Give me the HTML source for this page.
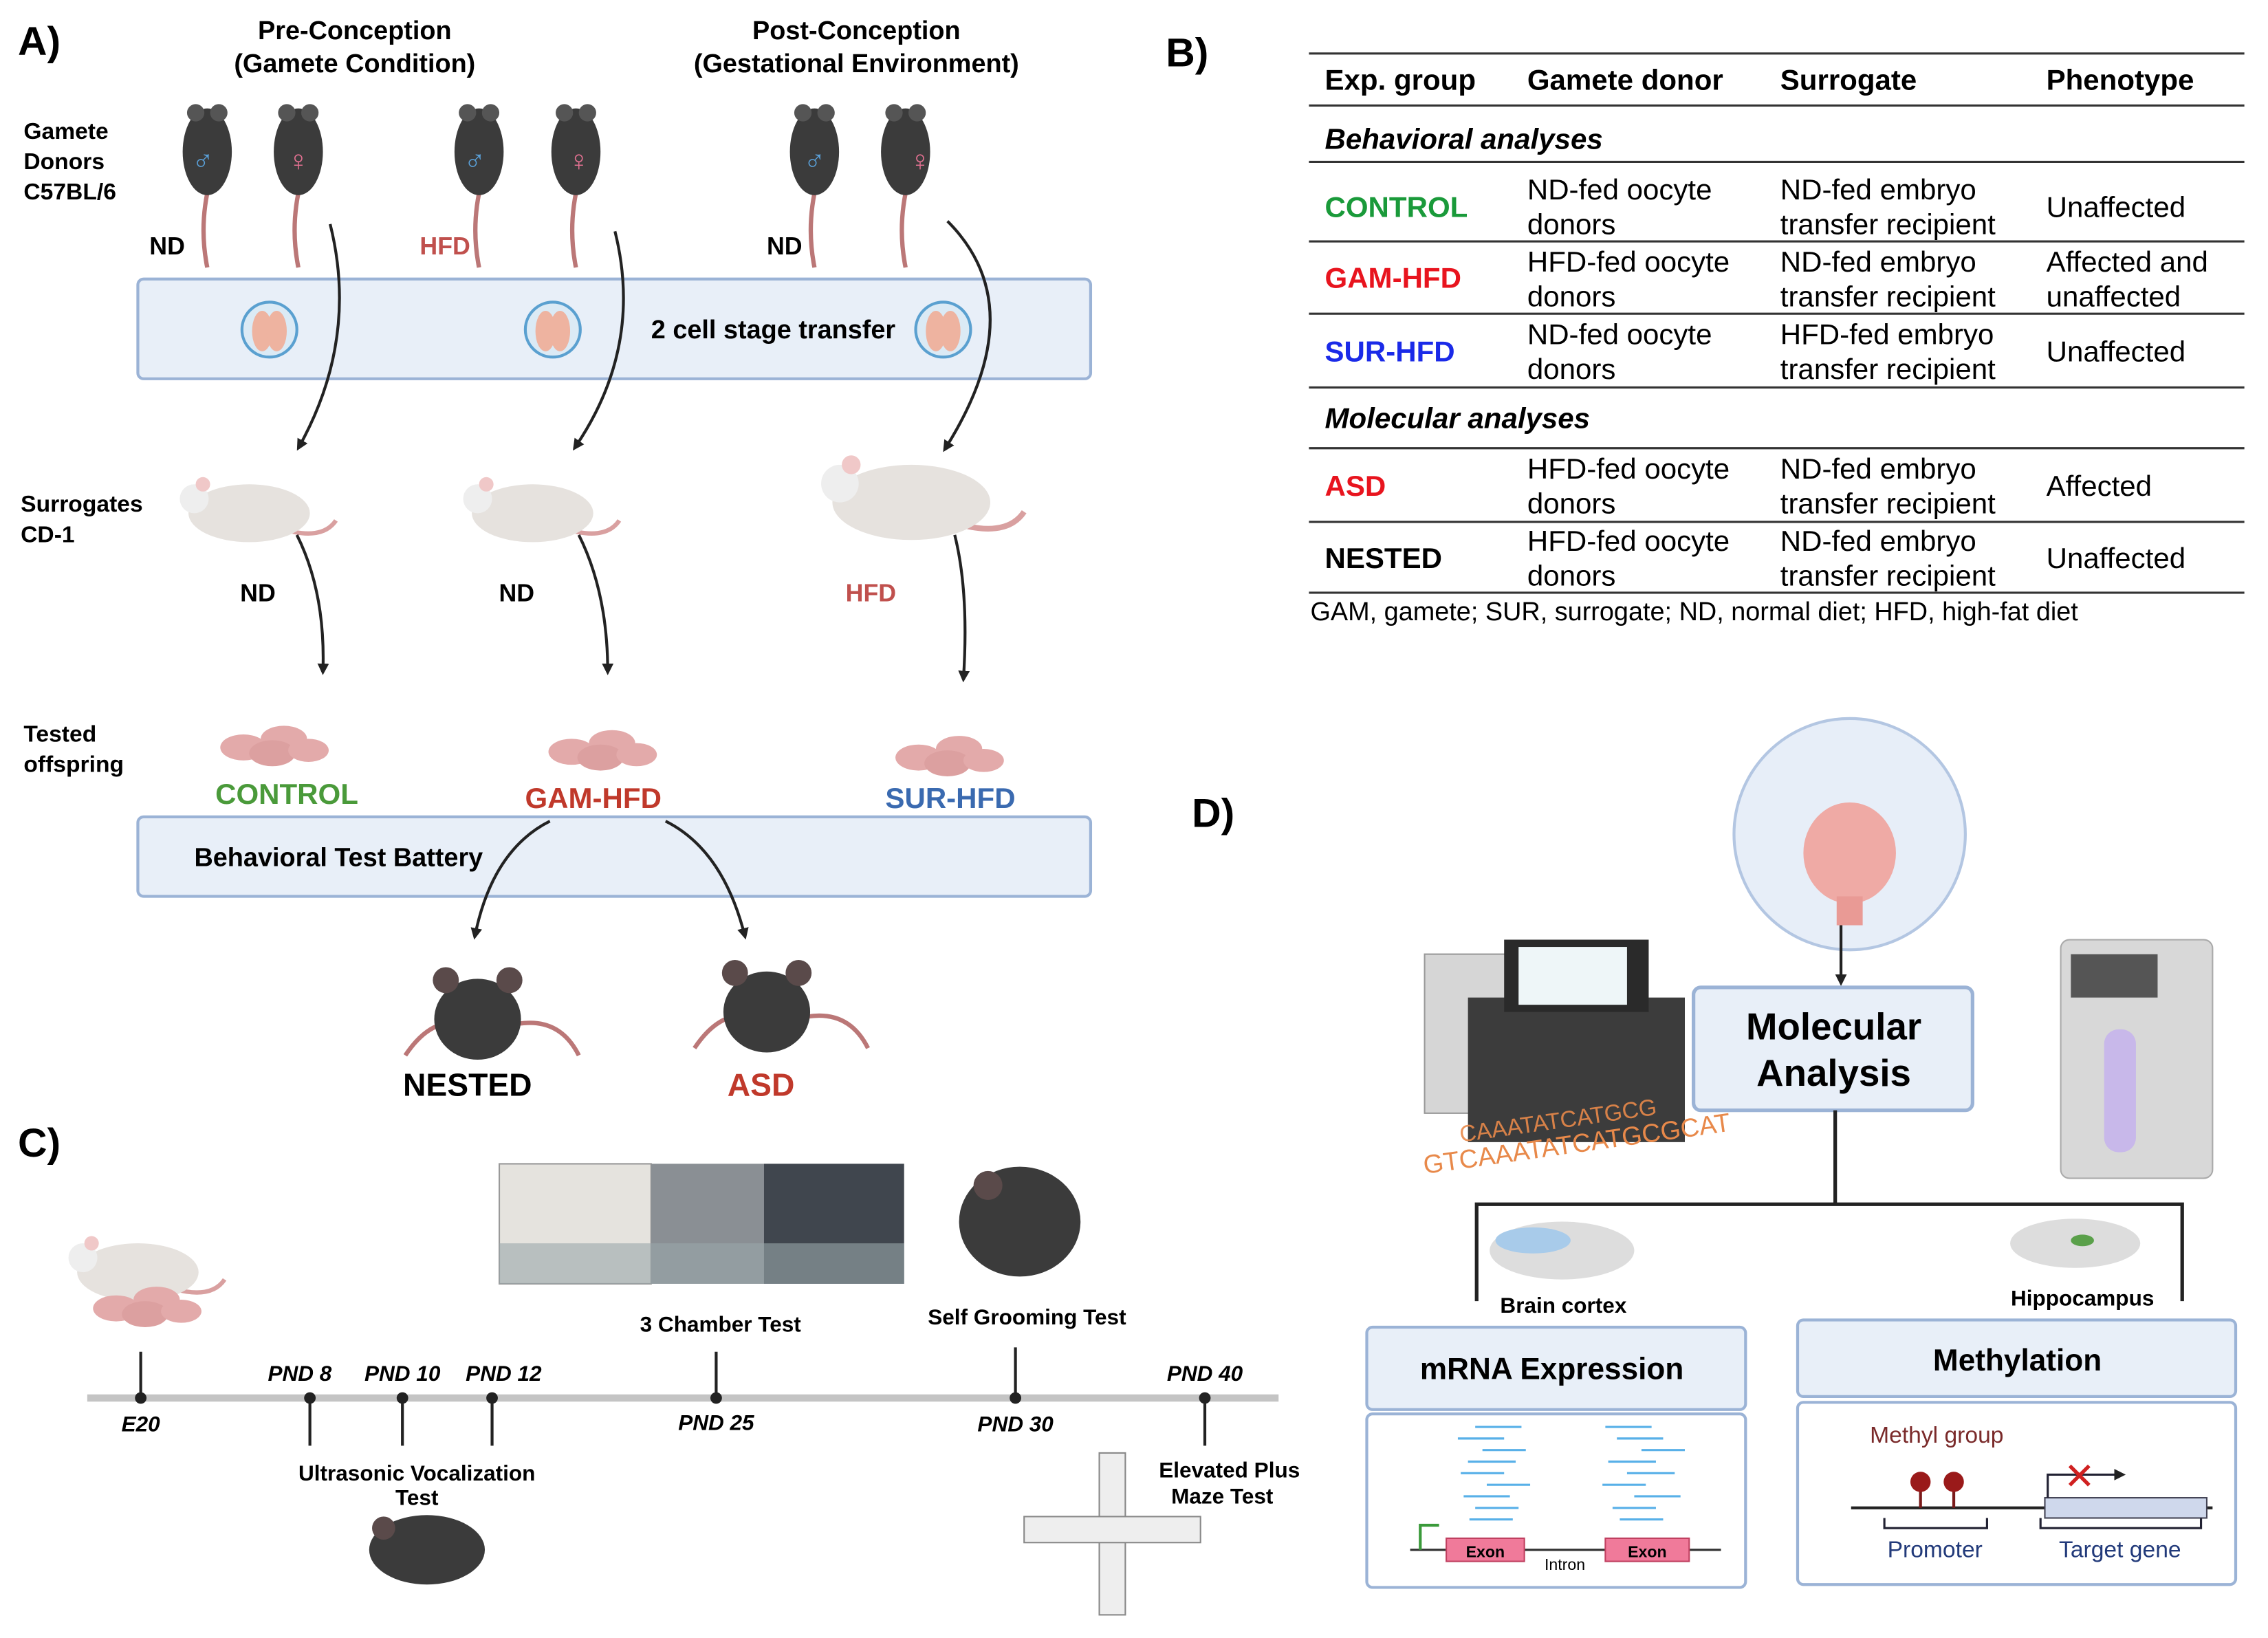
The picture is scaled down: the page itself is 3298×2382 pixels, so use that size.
<!DOCTYPE html>
<html><head><meta charset="utf-8"><style>
html,body{margin:0;padding:0;background:#fff}
svg{display:block}
text{font-family:"Liberation Sans",sans-serif}
.b{font-weight:bold}
</style></head><body>
<svg width="3298" height="2382" viewBox="0 0 1568 1133" xmlns="http://www.w3.org/2000/svg">
<defs>
<marker id="ah" markerWidth="8" markerHeight="8" refX="6" refY="4" orient="auto" markerUnits="userSpaceOnUse"><path d="M0,0 L8,4 L0,8 z" fill="#222"/></marker>
<g id="bm"><path d="M20,55 q-8,30 -2,60" stroke="#b77" stroke-width="3" fill="none"/><ellipse cx="18" cy="35" rx="17" ry="30" fill="#3b3b3b"/><circle cx="10" cy="8" r="6" fill="#555"/><circle cx="26" cy="8" r="6" fill="#555"/></g>
<g id="wm"><path d="M70,35 q30,10 40,-5" stroke="#d9a0a0" stroke-width="3" fill="none"/><ellipse cx="50" cy="25" rx="42" ry="20" fill="#e6e2de"/><circle cx="12" cy="15" r="10" fill="#eee"/><circle cx="18" cy="5" r="5" fill="#f0c8c8"/></g>
<g id="pups"><ellipse cx="20" cy="20" rx="16" ry="9" fill="#e3aaaa"/><ellipse cx="48" cy="14" rx="16" ry="9" fill="#e3aaaa"/><ellipse cx="40" cy="24" rx="16" ry="9" fill="#dca0a0"/><ellipse cx="65" cy="22" rx="14" ry="8" fill="#e3aaaa"/></g>
<g id="dm"><path d="M-50,50 q20,-30 45,-20 M20,30 q35,-10 50,20" stroke="#b77" stroke-width="3" fill="none"/><ellipse cx="0" cy="25" rx="30" ry="28" fill="#3b3b3b"/><circle cx="-22" cy="-2" r="9" fill="#5a4a4a"/><circle cx="22" cy="-2" r="9" fill="#5a4a4a"/></g>
<g id="emb"><circle r="19" fill="#dbeaf5" stroke="#5aa0d0" stroke-width="2"/><ellipse cx="-5" cy="1" rx="7" ry="14" fill="#eeb3a0"/><ellipse cx="5" cy="1" rx="7" ry="14" fill="#eeb3a0"/></g>
</defs>

<!-- Panel A -->
<text x="12" y="38" class="b" font-size="28">A)</text>
<text x="245" y="27" class="b" font-size="18" text-anchor="middle">Pre-Conception</text>
<text x="245" y="50" class="b" font-size="18" text-anchor="middle">(Gamete Condition)</text>
<text x="592" y="27" class="b" font-size="18" text-anchor="middle">Post-Conception</text>
<text x="592" y="50" class="b" font-size="18" text-anchor="middle">(Gestational Environment)</text>
<text x="16" y="96" class="b" font-size="16">Gamete</text>
<text x="16" y="117" class="b" font-size="16">Donors</text>
<text x="16" y="138" class="b" font-size="16">C57BL/6</text>

<use href="#bm" x="125" y="70"/><use href="#bm" x="188" y="70"/>
<use href="#bm" x="313" y="70"/><use href="#bm" x="380" y="70"/>
<use href="#bm" x="545" y="70"/><use href="#bm" x="608" y="70"/>
<text x="140" y="118" font-size="20" fill="#5aa0d8" text-anchor="middle">♂</text>
<text x="206" y="118" font-size="20" fill="#e07090" text-anchor="middle">♀</text>
<text x="328" y="118" font-size="20" fill="#5aa0d8" text-anchor="middle">♂</text>
<text x="400" y="118" font-size="20" fill="#e07090" text-anchor="middle">♀</text>
<text x="563" y="118" font-size="20" fill="#5aa0d8" text-anchor="middle">♂</text>
<text x="636" y="118" font-size="20" fill="#e07090" text-anchor="middle">♀</text>
<text x="103" y="176" class="b" font-size="17">ND</text>
<text x="290" y="176" class="b" font-size="17" fill="#c0504d">HFD</text>
<text x="530" y="176" class="b" font-size="17">ND</text>

<rect x="95" y="193" width="659" height="69" rx="4" fill="#e8eff8" stroke="#9bb3d6" stroke-width="2"/>
<use href="#emb" x="186" y="228"/><use href="#emb" x="382" y="228"/><use href="#emb" x="652" y="228"/>
<text x="450" y="234" class="b" font-size="18">2 cell stage transfer</text>

<text x="14" y="354" class="b" font-size="16">Surrogates</text>
<text x="14" y="375" class="b" font-size="16">CD-1</text>
<use href="#wm" x="122" y="330"/>
<use href="#wm" x="318" y="330"/>
<g transform="translate(565,315) scale(1.3)"><use href="#wm"/></g>
<text x="178" y="416" class="b" font-size="17" text-anchor="middle">ND</text>
<text x="357" y="416" class="b" font-size="17" text-anchor="middle">ND</text>
<text x="602" y="416" class="b" font-size="17" text-anchor="middle" fill="#c0504d">HFD</text>

<text x="16" y="513" class="b" font-size="16">Tested</text>
<text x="16" y="534" class="b" font-size="16">offspring</text>
<use href="#pups" x="148" y="497"/>
<use href="#pups" x="375" y="500"/>
<use href="#pups" x="615" y="504"/>
<text x="198" y="556" class="b" font-size="20" fill="#4a9a3a" text-anchor="middle">CONTROL</text>
<text x="410" y="559" class="b" font-size="20" fill="#c0392b" text-anchor="middle">GAM-HFD</text>
<text x="657" y="559" class="b" font-size="20" fill="#3a6ab0" text-anchor="middle">SUR-HFD</text>

<rect x="95" y="565" width="659" height="55" rx="4" fill="#e8eff8" stroke="#9bb3d6" stroke-width="2"/>
<text x="134" y="599" class="b" font-size="18">Behavioral Test Battery</text>

<g stroke="#222" stroke-width="2" fill="none" marker-end="url(#ah)">
<path d="M228,155 q20,80 -22,155"/>
<path d="M425,160 q20,80 -28,150"/>
<path d="M655,153 q60,60 -2,158"/>
<path d="M205,370 q20,40 18,95"/>
<path d="M400,370 q20,40 20,95"/>
<path d="M660,370 q10,40 6,100"/>
<path d="M380,568 q-40,20 -52,80"/>
<path d="M460,568 q40,20 55,80"/>
</g>
<use href="#dm" x="330" y="680"/>
<use href="#dm" x="530" y="675"/>
<text x="323" y="758" class="b" font-size="22" text-anchor="middle">NESTED</text>
<text x="526" y="758" class="b" font-size="22" text-anchor="middle" fill="#c0392b">ASD</text>

<!-- Panel C -->
<text x="12" y="800" class="b" font-size="28">C)</text>
<use href="#wm" x="45" y="855"/>
<use href="#pups" x="60" y="885"/>
<g>
<polygon points="345,805 450,805 450,888 345,888" fill="#e5e3de" stroke="#999"/>
<polygon points="450,805 528,805 528,888 450,888" fill="#8a8f94"/>
<polygon points="528,805 625,805 625,888 528,888" fill="#40464e"/>
<rect x="345" y="860" width="280" height="28" fill="#9aa6aa" opacity="0.6"/>
</g>
<g transform="translate(705,845)"><ellipse cx="0" cy="0" rx="42" ry="38" fill="#3b3b3b"/><circle cx="-22" cy="-25" r="10" fill="#5a4a4a"/></g>
<line x1="60" y1="967" x2="884" y2="967" stroke="#c4c4c4" stroke-width="5"/>
<g stroke="#222" stroke-width="2">
<line x1="97" y1="935" x2="97" y2="967"/>
<line x1="214" y1="967" x2="214" y2="1000"/>
<line x1="278" y1="967" x2="278" y2="1000"/>
<line x1="340" y1="967" x2="340" y2="1000"/>
<line x1="495" y1="935" x2="495" y2="967"/>
<line x1="702" y1="932" x2="702" y2="967"/>
<line x1="833" y1="967" x2="833" y2="1000"/>
</g>
<g fill="#222"><circle cx="97" cy="967" r="4"/><circle cx="214" cy="967" r="4"/><circle cx="278" cy="967" r="4"/><circle cx="340" cy="967" r="4"/><circle cx="495" cy="967" r="4"/><circle cx="702" cy="967" r="4"/><circle cx="833" cy="967" r="4"/></g>
<g class="b" font-size="15" font-style="italic" text-anchor="middle">
<text x="97" y="990">E20</text>
<text x="207" y="955">PND 8</text>
<text x="278" y="955">PND 10</text>
<text x="348" y="955">PND 12</text>
<text x="495" y="989">PND 25</text>
<text x="702" y="990">PND 30</text>
<text x="833" y="955">PND 40</text>
</g>
<g class="b" font-size="15" text-anchor="middle">
<text x="498" y="921">3 Chamber Test</text>
<text x="710" y="916">Self Grooming Test</text>
<text x="288" y="1024">Ultrasonic Vocalization</text>
<text x="288" y="1041">Test</text>
<text x="850" y="1022">Elevated Plus</text>
<text x="845" y="1040">Maze Test</text>
</g>
<g transform="translate(295,1072)"><ellipse cx="0" cy="0" rx="40" ry="24" fill="#3b3b3b"/><circle cx="-30" cy="-15" r="8" fill="#5a4a4a"/></g>
<g fill="#eee" stroke="#888"><rect x="760" y="1005" width="18" height="112"/><rect x="708" y="1049" width="122" height="18"/></g>

<!-- Panel B -->
<text x="806" y="46" class="b" font-size="28">B)</text>
<g stroke="#333" stroke-width="1.5">
<line x1="905" y1="37" x2="1552" y2="37"/>
<line x1="905" y1="73" x2="1552" y2="73"/>
<line x1="905" y1="112" x2="1552" y2="112"/>
<line x1="905" y1="167" x2="1552" y2="167"/>
<line x1="905" y1="217" x2="1552" y2="217"/>
<line x1="905" y1="268" x2="1552" y2="268"/>
<line x1="905" y1="310" x2="1552" y2="310"/>
<line x1="905" y1="361" x2="1552" y2="361"/>
<line x1="905" y1="410" x2="1552" y2="410"/>
</g>
<g font-size="20">
<text x="916" y="62" class="b">Exp. group</text>
<text x="1056" y="62" class="b">Gamete donor</text>
<text x="1231" y="62" class="b">Surrogate</text>
<text x="1415" y="62" class="b">Phenotype</text>
<text x="916" y="103" class="b" font-style="italic">Behavioral analyses</text>
<text x="916" y="150" class="b" fill="#1a9a3a">CONTROL</text>
<text x="1056" y="138">ND-fed oocyte</text><text x="1056" y="162">donors</text>
<text x="1231" y="138">ND-fed embryo</text><text x="1231" y="162">transfer recipient</text>
<text x="1415" y="150">Unaffected</text>
<text x="916" y="199" class="b" fill="#e8141e">GAM-HFD</text>
<text x="1056" y="188">HFD-fed oocyte</text><text x="1056" y="212">donors</text>
<text x="1231" y="188">ND-fed embryo</text><text x="1231" y="212">transfer recipient</text>
<text x="1415" y="188">Affected and</text><text x="1415" y="212">unaffected</text>
<text x="916" y="250" class="b" fill="#1a2ae8">SUR-HFD</text>
<text x="1056" y="238">ND-fed oocyte</text><text x="1056" y="262">donors</text>
<text x="1231" y="238">HFD-fed embryo</text><text x="1231" y="262">transfer recipient</text>
<text x="1415" y="250">Unaffected</text>
<text x="916" y="296" class="b" font-style="italic">Molecular analyses</text>
<text x="916" y="343" class="b" fill="#e8141e">ASD</text>
<text x="1056" y="331">HFD-fed oocyte</text><text x="1056" y="355">donors</text>
<text x="1231" y="331">ND-fed embryo</text><text x="1231" y="355">transfer recipient</text>
<text x="1415" y="343">Affected</text>
<text x="916" y="393" class="b">NESTED</text>
<text x="1056" y="381">HFD-fed oocyte</text><text x="1056" y="405">donors</text>
<text x="1231" y="381">ND-fed embryo</text><text x="1231" y="405">transfer recipient</text>
<text x="1415" y="393">Unaffected</text>
</g>
<text x="906" y="429" font-size="18">GAM, gamete; SUR, surrogate; ND, normal diet; HFD, high-fat diet</text>

<!-- Panel D -->
<text x="824" y="572" class="b" font-size="28">D)</text>
<circle cx="1279" cy="577" r="80" fill="#e7eef8" stroke="#b3c6e2" stroke-width="2"/>
<ellipse cx="1279" cy="590" rx="32" ry="35" fill="#efaaa5"/>
<rect x="1270" y="620" width="18" height="20" fill="#e99a95"/>
<line x1="1273" y1="640" x2="1273" y2="680" stroke="#222" stroke-width="2" marker-end="url(#ah)"/>
<!-- sequencer -->
<rect x="985" y="660" width="60" height="110" fill="#d6d6d6" stroke="#999"/>
<rect x="1015" y="690" width="150" height="100" fill="#3c3c3c"/>
<polygon points="1040,650 1140,650 1140,700 1040,700" fill="#2a2a2a"/>
<rect x="1050" y="655" width="75" height="40" fill="#eef6f8"/>
<text x="1010" y="790" font-size="16" fill="#e8894a" transform="rotate(-8 1010 790)" opacity="0.9">CAAATATCATGCG</text>
<text x="985" y="812" font-size="18" fill="#e8894a" transform="rotate(-8 985 812)">GTCAAATATCATGCGCAT</text>
<!-- right machine -->
<rect x="1425" y="650" width="105" height="165" rx="6" fill="#d8d8d8" stroke="#aaa"/>
<rect x="1432" y="660" width="60" height="30" fill="#555"/>
<rect x="1455" y="712" width="22" height="85" rx="10" fill="#c8b8ea"/>

<rect x="1171" y="683" width="193" height="85" rx="5" fill="#e8eff8" stroke="#9bb3d6" stroke-width="2.5"/>
<text x="1268" y="719" class="b" font-size="26" text-anchor="middle">Molecular</text>
<text x="1268" y="751" class="b" font-size="26" text-anchor="middle">Analysis</text>
<g stroke="#222" stroke-width="2.5" fill="none">
<line x1="1269" y1="768" x2="1269" y2="833"/>
<polyline points="1021,900 1021,833 1509,833 1509,900"/>
</g>
<ellipse cx="1080" cy="865" rx="50" ry="20" fill="#ddd"/>
<ellipse cx="1060" cy="858" rx="26" ry="9" fill="#a8cbea"/>
<ellipse cx="1435" cy="860" rx="45" ry="17" fill="#ddd"/>
<ellipse cx="1440" cy="858" rx="8" ry="4" fill="#5aa04a"/>
<text x="1081" y="908" class="b" font-size="15" text-anchor="middle">Brain cortex</text>
<text x="1440" y="903" class="b" font-size="15" text-anchor="middle">Hippocampus</text>

<rect x="945" y="918" width="262" height="57" rx="4" fill="#e8eff8" stroke="#9bb3d6" stroke-width="2"/>
<text x="1073" y="954" class="b" font-size="21" text-anchor="middle">mRNA Expression</text>
<rect x="945" y="978" width="262" height="120" rx="4" fill="#fff" stroke="#9bb3d6" stroke-width="2"/>
<g stroke="#58b0e8" stroke-width="1.5">
<line x1="1020" y1="987" x2="1052" y2="987"/><line x1="1008" y1="995" x2="1040" y2="995"/><line x1="1025" y1="1003" x2="1055" y2="1003"/><line x1="1015" y1="1011" x2="1048" y2="1011"/><line x1="1010" y1="1019" x2="1040" y2="1019"/><line x1="1028" y1="1027" x2="1058" y2="1027"/><line x1="1012" y1="1035" x2="1044" y2="1035"/><line x1="1020" y1="1043" x2="1050" y2="1043"/><line x1="1016" y1="1051" x2="1046" y2="1051"/>
<line x1="1110" y1="987" x2="1142" y2="987"/><line x1="1118" y1="995" x2="1150" y2="995"/><line x1="1135" y1="1003" x2="1165" y2="1003"/><line x1="1112" y1="1011" x2="1145" y2="1011"/><line x1="1125" y1="1019" x2="1158" y2="1019"/><line x1="1108" y1="1027" x2="1138" y2="1027"/><line x1="1130" y1="1035" x2="1162" y2="1035"/><line x1="1115" y1="1043" x2="1145" y2="1043"/><line x1="1120" y1="1051" x2="1150" y2="1051"/>
</g>
<line x1="975" y1="1072" x2="1190" y2="1072" stroke="#333" stroke-width="1.5"/>
<polyline points="982,1072 982,1055 995,1055" stroke="#3a9a3a" stroke-width="2" fill="none"/>
<rect x="1000" y="1064" width="54" height="16" fill="#f07a9a" stroke="#c04060"/>
<rect x="1110" y="1064" width="58" height="16" fill="#f07a9a" stroke="#c04060"/>
<text x="1027" y="1077" font-size="11" class="b" text-anchor="middle">Exon</text>
<text x="1139" y="1077" font-size="11" class="b" text-anchor="middle">Exon</text>
<text x="1082" y="1086" font-size="11" text-anchor="middle">Intron</text>

<rect x="1243" y="913" width="303" height="53" rx="4" fill="#e8eff8" stroke="#9bb3d6" stroke-width="2"/>
<text x="1395" y="948" class="b" font-size="21" text-anchor="middle">Methylation</text>
<rect x="1243" y="970" width="303" height="126" rx="4" fill="#fff" stroke="#9bb3d6" stroke-width="2"/>
<text x="1293" y="998" font-size="16" fill="#7a2a2a">Methyl group</text>
<line x1="1280" y1="1043" x2="1530" y2="1043" stroke="#222" stroke-width="2"/>
<g stroke="#7a1a1a" stroke-width="2"><line x1="1328" y1="1030" x2="1328" y2="1043"/><line x1="1351" y1="1030" x2="1351" y2="1043"/></g>
<circle cx="1328" cy="1025" r="7" fill="#9a1a1a"/><circle cx="1351" cy="1025" r="7" fill="#9a1a1a"/>
<rect x="1414" y="1036" width="112" height="14" fill="#cfd8ec" stroke="#445"/>
<polyline points="1416,1036 1416,1020 1468,1020" stroke="#223" stroke-width="1.5" fill="none" marker-end="url(#ah)"/>
<text x="1438" y="1030" font-size="26" fill="#d02020" text-anchor="middle">✕</text>
<g stroke="#223" stroke-width="1.5" fill="none"><polyline points="1303,1050 1303,1057 1374,1057 1374,1050"/><polyline points="1411,1050 1411,1057 1522,1057 1522,1050"/></g>
<text x="1338" y="1077" font-size="16" fill="#223a7a" text-anchor="middle">Promoter</text>
<text x="1466" y="1077" font-size="16" fill="#223a7a" text-anchor="middle">Target gene</text>
</svg>
</body></html>
